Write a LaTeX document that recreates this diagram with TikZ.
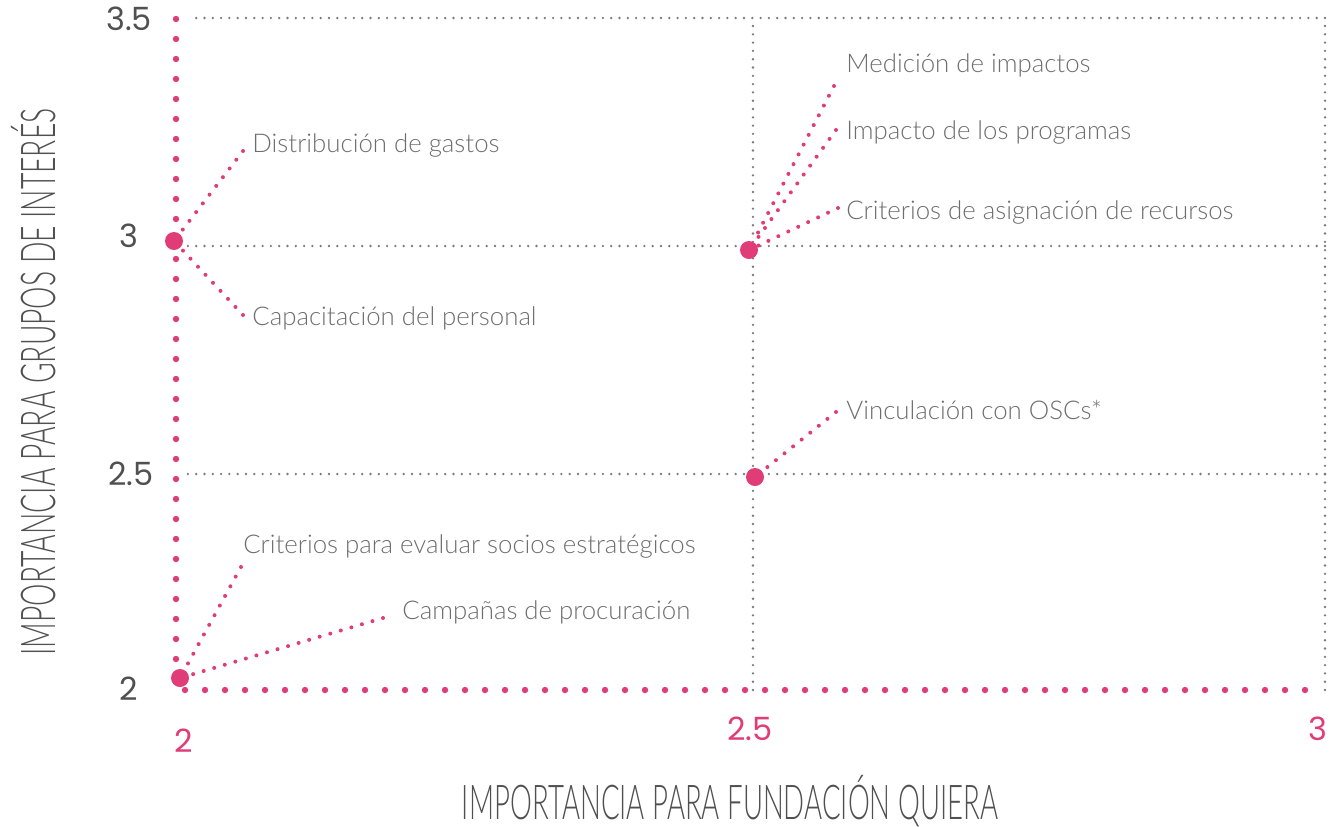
\documentclass[tikz,border=0pt]{standalone}
\usepackage{fontspec}
\usepackage{graphicx}
\setmainfont{Lato Light}
\newfontfamily\numfont{Poppins}
\usetikzlibrary{positioning}
\definecolor{rosa}{HTML}{E03C78}
\definecolor{gristxt}{HTML}{6E6E6E}
\definecolor{grislinea}{HTML}{7A7A7A}
\definecolor{grisnum}{HTML}{505050}

\begin{document}
\begin{tikzpicture}[x=0.5pt,y=-0.5pt]
	\tikzstyle{punto}=[circle, fill=rosa, draw=none, inner sep=0pt, minimum size=9pt]
	\tikzstyle{guia}=[rosa, line width=2pt, line cap=round, dash pattern=on 0pt off 5.5pt]
	\tikzstyle{eje}=[rosa, line width=3.2pt, line cap=round, dash pattern=on 0pt off 10pt]
	\tikzstyle{rejilla}=[grislinea, line width=1.3pt, line cap=round, dash pattern=on 0pt off 4.15pt]
	\tikzstyle{etiqueta}=[anchor=base west, inner sep=0pt, text=gristxt, font=\fontsize{12.9}{15}\selectfont]
	\tikzstyle{valy}=[anchor=base, inner sep=0pt, text=grisnum, font=\numfont\fontsize{16}{18}\selectfont]
	\tikzstyle{valx}=[valy, text=rosa]
	\tikzstyle{titulo}=[anchor=base, inner sep=0pt, text=grisnum, font=\fontsize{24}{24}\selectfont]
	\useasboundingbox (0,0) rectangle (1330,826);

	% rejilla
	\draw[rejilla] (1325,18) -- (190,18);
	\draw[rejilla] (1325,246) -- (186,246);
	\draw[rejilla] (1325,474) -- (186,474);
	\draw[rejilla] (753,690) -- (753,18);
	\draw[rejilla] (1325,690) -- (1325,18);

	% ejes
	\draw[eje] (176,19) -- (176,690) -- (1325,690);

	% valores
	\node[valy] (y35) at (129,30) {3.5};
	\node[valy] (y3) at (129,247) {3};
	\node[valy] (y25) at (131,485) {2.5};
	\node[valy] (y2) at (129,700) {2};
	\node[valx] (x2) at (184,752) {2};
	\node[valx] (x25) at (750,740) {2.5};
	\node[valx] (x3) at (1318,740) {3};

	\node[titulo, rotate=90] (tity) at (55,382) {\resizebox{273.5pt}{\height}{IMPORTANCIA PARA GRUPOS DE INTERÉS}};
	\node[titulo] (titx) at (730,819) {\resizebox{268pt}{\height}{IMPORTANCIA PARA FUNDACIÓN QUIERA}};

	% puntos
	\node[punto] (p1) at (174,241) {};
	\node[punto] (p2) at (749,250) {};
	\node[punto] (p3) at (755,477) {};
	\node[punto] (p4) at (180,678) {};

	% etiquetas
	\node[etiqueta] (gastos) at (252,152) {Distribución de gastos};
	\node[etiqueta] (capac) at (252,325) {Capacitación del personal};
	\node[etiqueta] (medic) at (846,72) {Medición de impactos};
	\node[etiqueta] (progr) at (846,139) {Impacto de los programas};
	\node[etiqueta] (crit) at (846,219) {Criterios de asignación de recursos};
	\node[etiqueta] (vinc) at (846,419) {Vinculación con OSCs*};
	\node[etiqueta] (socios) at (243,553) {Criterios para evaluar socios estratégicos};
	\node[etiqueta] (campa) at (402,619) {Campañas de procuración};

	\coordinate (e1) at (243,151);
	\coordinate (e2) at (243,315);
	\coordinate (e3) at (834,86);
	\coordinate (e4) at (836,130);
	\coordinate (e5) at (838,208);
	\coordinate (e6) at (836,412);
	\coordinate (e7) at (241,567);
	\coordinate (e8) at (383,618);

	\draw[guia] (e1) -- (p1);
	\draw[guia] (e2) -- (p1);
	\draw[guia] (e3) -- (p2);
	\draw[guia] (e4) -- (p2);
	\draw[guia] (e5) -- (p2);
	\draw[guia] (e6) -- (p3);
	\draw[guia] (e7) -- (p4);
	\draw[guia] (e8) -- (p4);
\end{tikzpicture}
\end{document}
